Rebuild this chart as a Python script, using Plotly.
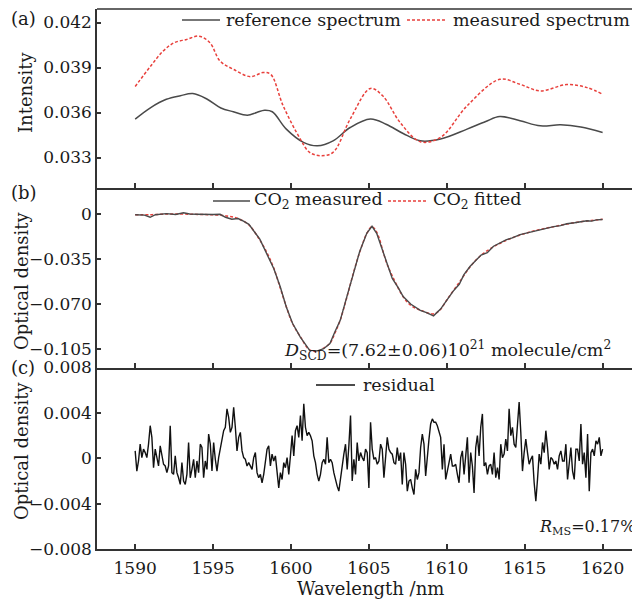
import numpy as np
import plotly.graph_objects as go

# ---------------- data ----------------
ref_wl = [1590.0, 1591.0, 1592.0, 1592.9, 1593.7, 1594.6, 1595.5, 1596.3, 1597.2, 1597.8,
          1598.3, 1598.8, 1599.7, 1600.8, 1601.7, 1602.7, 1603.8, 1605.1, 1606.1, 1607.2,
          1608.3, 1609.6, 1611.3, 1612.5, 1613.4, 1614.7, 1616.0, 1617.3, 1618.6, 1620.0]
ref_int = [0.03556, 0.03633, 0.03688, 0.03712, 0.03726, 0.03690, 0.03630, 0.03605, 0.03582, 0.03600,
           0.03615, 0.03605, 0.03489, 0.03401, 0.03378, 0.03411, 0.03500, 0.03556, 0.03522, 0.03460,
           0.03411, 0.03423, 0.03489, 0.03540, 0.03573, 0.03545, 0.03511, 0.03518, 0.03504, 0.03467]

meas_wl = [1590.0, 1591.0, 1591.8, 1592.5, 1593.3, 1594.1, 1594.8, 1595.45, 1596.3, 1597.4,
           1598.2, 1598.7, 1599.5, 1600.6, 1601.2, 1601.9, 1602.7, 1603.8, 1605.1, 1605.9,
           1607.0, 1608.3, 1609.6, 1611.3, 1613.4, 1614.7, 1616.0, 1617.7, 1619.0, 1620.0]
meas_int = [0.03773, 0.03910, 0.04010, 0.04065, 0.04087, 0.04109, 0.04065, 0.03943, 0.03888, 0.03839,
            0.03866, 0.03854, 0.03644, 0.03423, 0.03334, 0.03312, 0.03334, 0.03556, 0.03760, 0.03710,
            0.03534, 0.03405, 0.03434, 0.03644, 0.03821, 0.03788, 0.03744, 0.03786, 0.03766, 0.03722]

co2_meas_wl = [1590.0, 1590.6, 1590.96, 1591.3, 1592.0, 1592.6, 1593.1, 1593.5, 1594.0, 1594.5,
               1595.0, 1595.45, 1595.8, 1596.2, 1596.6, 1596.95, 1597.3, 1598.0, 1598.5, 1598.9,
               1599.3, 1599.7, 1600.1, 1600.6, 1601.2, 1601.7, 1602.1, 1602.5, 1602.8, 1603.16,
               1603.6, 1604.0, 1604.4, 1604.87, 1605.2, 1605.5, 1606.15, 1606.5, 1606.9, 1607.2,
               1607.7, 1608.0, 1608.3, 1608.7, 1609.15, 1609.6, 1610.0, 1610.4, 1610.8, 1611.1,
               1611.5, 1612.2, 1612.6, 1613.0, 1613.8, 1614.2, 1614.7, 1615.3, 1615.8, 1616.3,
               1616.86, 1617.3, 1617.7, 1618.2, 1618.6, 1619.0, 1619.3, 1619.6, 1620.0]
co2_meas_od = [-0.0005, -0.0008, -0.0025, -0.0005, 0.0003, -0.0003, 0.0010, 0.0000, -0.0002, -0.0005,
               -0.0004, -0.0002, -0.0025, -0.0040, -0.0035, -0.0055, -0.0080, -0.0195, -0.0320, -0.0425,
               -0.0560, -0.0722, -0.0848, -0.0955, -0.1058, -0.1062, -0.1045, -0.1005, -0.0920, -0.0825,
               -0.0635, -0.0465, -0.0295, -0.0148, -0.0095, -0.0150, -0.0385, -0.0500, -0.0575, -0.0640,
               -0.0700, -0.0722, -0.0748, -0.0765, -0.0790, -0.0738, -0.0670, -0.0600, -0.0545, -0.0470,
               -0.0405, -0.0318, -0.0300, -0.0250, -0.0200, -0.0185, -0.0160, -0.0142, -0.0128, -0.0112,
               -0.0098, -0.0090, -0.0075, -0.0068, -0.0062, -0.0052, -0.0055, -0.0045, -0.0042]

co2_fit_wl = [1590.0, 1591.0, 1592.0, 1593.0, 1594.0, 1595.0, 1595.9, 1596.6, 1597.3, 1598.0,
              1598.5, 1598.9, 1599.3, 1599.7, 1600.1, 1600.6, 1601.2, 1601.7, 1602.1, 1602.5,
              1602.8, 1603.16, 1603.6, 1604.0, 1604.4, 1604.87, 1605.2, 1605.5, 1606.15, 1606.7,
              1607.2, 1607.7, 1608.3, 1609.15, 1609.6, 1610.0, 1610.8, 1611.5, 1612.2, 1613.0,
              1613.8, 1614.7, 1615.8, 1616.86, 1617.7, 1618.6, 1619.3, 1620.0]
co2_fit_od = [-0.0005, -0.0005, 0.0000, 0.0000, -0.0003, -0.0006, -0.0015, -0.0035, -0.0085, -0.0202,
              -0.0310, -0.0421, -0.0570, -0.0719, -0.0850, -0.0952, -0.1055, -0.1065, -0.1040, -0.1003,
              -0.0930, -0.0823, -0.0640, -0.0460, -0.0300, -0.0150, -0.0098, -0.0140, -0.0383, -0.0530,
              -0.0642, -0.0710, -0.0745, -0.0775, -0.0740, -0.0667, -0.0530, -0.0409, -0.0320, -0.0254,
              -0.0205, -0.0163, -0.0125, -0.0098, -0.0078, -0.0060, -0.0050, -0.0041]

# residual, units of 1e-3, sampled uniformly from 1590 to 1620 nm
residual_milli = [
    0.65, -1.13, -0.24, 1.24, 0.06, 0.80, 0.50, 0.06, 1.24, 2.87,
    1.84, -0.83, 0.80, -0.09, -0.68, 1.10, 0.21, -0.53, -0.68, -1.27,
    -0.68, 2.87, -1.27, -1.42, 0.21, -1.27, -1.72, -2.31, -0.39, -2.01,
    -2.31, -1.42, 1.39, -1.72, -0.98, -0.09, -1.72, -0.24, -1.27, 1.24,
    0.95, -1.72, -0.24, -0.98, 2.13, 1.24, -1.13, 1.39, -0.09, -1.13,
    0.06, 0.95, 1.54, 2.43, 2.73, 4.36, 3.61, 2.28, 2.73, 4.50,
    2.73, 0.65, 1.84, 2.28, 0.65, 0.06, -0.09, -0.68, -0.39,
    -0.68, -0.98, 0.06, 0.50, -1.27, -1.72, -1.42, -2.16, -1.42, -0.24,
    0.80, 1.10, -0.68, 0.36, -0.24, 0.21, -1.42, -2.61, -1.27, -1.87,
    -0.39, -0.83, 0.06, -1.42, 0.21, 1.99, 0.21, 2.43, 2.87, 1.84,
    3.76, 1.54, 4.80, 2.73, 1.99, 2.28, 1.99, 1.54, 0.21, -0.39,
    -1.42, -2.01, -1.42, -0.39, -0.09, -0.53, 1.84, -0.39, -0.09, -0.39,
    -1.27, -2.01, -2.46, -2.90, -1.72, -0.68, 0.36, 1.24, -0.98, 1.10,
    3.76, -2.01, -0.09, -1.42, 1.39, -0.24, 0.50, 0.06, -0.24, 0.80,
    0.50, -2.61,
    3.17, 0.80, -0.09, 0.06, -0.53, -0.24, 1.24, 0.80, -1.72, 0.06,
    1.84, 0.80, 0.50, 0.36, -0.39, -0.53, 0.95, -0.24, 0.50, -2.31,
    0.50, -0.53, -2.90, -2.01, -1.87, -2.61, -3.20, -0.98, -1.87, -1.27,
    0.95, 2.13, 1.24, -1.57, 0.50, 1.69, 3.02, 3.47, 3.17, 3.17,
    2.87, 2.43, 1.84, -0.98, 1.24, -1.87, -0.98, -0.39, 0.36, -0.68,
    -0.68, -0.53, -1.42, -2.16, 0.06, 0.65, -1.42, -0.09, 1.84, -2.16,
    0.50, -0.68, -3.05, 0.95, 1.99, 0.21, 2.73, 3.91, -0.68, -0.39,
    -1.42, -0.68,
    -0.53, -1.42, 0.50, -1.72, -0.83, -1.87, 1.24, 0.06, 0.36, 1.69,
    0.65, 4.36, 1.99, 2.73, 1.24, 0.95, 2.87, 4.95, 2.28, -1.13,
    0.50, 1.69, 0.50, -0.53, -0.09, 0.21, -2.16, -3.79, -1.87, 0.36,
    -0.53, 1.39, 0.50, 2.43, 0.95, -0.98, 0.06, -0.09, -0.53, -0.24,
    -0.98, 0.21, 0.65, -0.24, -0.24, 1.24, -1.87, -0.24, 0.95, -1.13,
    -1.87, 0.80, 0.80, -0.24, 3.02, -0.53, 0.50, -1.72, 2.13, -2.90,
    0.50, 0.80, 0.21, 1.54, 1.24, 1.84, 0.21, 0.80,
]
res_start_wl, res_end_wl = 1590.0, 1620.0
res_wl = np.linspace(res_start_wl, res_end_wl, len(residual_milli))
residual = np.array(residual_milli) * 1e-3

x_ticks = [1590, 1595, 1600, 1605, 1610, 1615, 1620]
a_ticks = [0.033, 0.036, 0.039, 0.042]
a_ticktext = ["0.033", "0.036", "0.039", "0.042"]
b_ticks = [0.0, -0.035, -0.070, -0.105]
b_ticktext = ["0", "\u22120.035", "\u22120.070", "\u22120.105"]
c_ticks = [0.008, 0.004, 0.0, -0.004, -0.008]
c_ticktext = ["0.008", "0.004", "0", "\u22120.004", "\u22120.008"]

# ---------------- layout helpers ----------------
# the page body adds an 8px margin, so the figure is drawn 8px in from the window corner
OFF = 8
W, H = 640 - OFF, 603 - OFF
L, R, T = 97 - OFF, 0, 1
B = H - (549 - OFF)
PW, PH = W - L - R, H - T - B


def px(xr):
    """window x (reference pixels) -> paper x"""
    return (xr - OFF - L) / PW


def py(yr):
    """window y (reference pixels) -> paper y"""
    return (H - B - (yr - OFF)) / PH


FONT = "DejaVu Serif"
TXT = "#1a1a1a"
AX = "#333333"
GRAY = "#4a4a4a"
RED = "#e8403c"
DASH = "3px,2px"

fig = go.Figure()
fig.add_trace(go.Scatter(x=ref_wl, y=ref_int, xaxis="x", yaxis="y", mode="lines",
                         line=dict(color=GRAY, width=1.5, shape="spline")))
fig.add_trace(go.Scatter(x=meas_wl, y=meas_int, xaxis="x", yaxis="y", mode="lines",
                         line=dict(color=RED, width=1.5, dash=DASH, shape="spline")))
fig.add_trace(go.Scatter(x=co2_fit_wl, y=co2_fit_od, xaxis="x2", yaxis="y2", mode="lines",
                         line=dict(color=RED, width=1.5, dash=DASH, shape="spline")))
fig.add_trace(go.Scatter(x=co2_meas_wl, y=co2_meas_od, xaxis="x2", yaxis="y2", mode="lines",
                         line=dict(color=GRAY, width=1.4)))
fig.add_trace(go.Scatter(x=res_wl, y=residual, xaxis="x3", yaxis="y3", mode="lines",
                         line=dict(color="#111111", width=1.4)))

xrange_ = [1587.55, 1622.4]
d_a = [py(187.5), 1.0]
d_b = [py(367.5), py(187.5)]
d_c = [0.0, py(367.5)]

common_x = dict(range=xrange_, tickvals=x_ticks, ticks="inside", ticklen=5, tickwidth=1.5,
                tickcolor=AX, showline=True, linecolor=AX, linewidth=1.5, showgrid=False,
                zeroline=False, domain=[0, 1])
common_y = dict(ticks="inside", ticklen=4, tickwidth=1.5, tickcolor=AX, showline=True,
                linecolor=AX, linewidth=1.5, showgrid=False, zeroline=False,
                tickfont=dict(family=FONT, size=17, color=TXT))

fig.update_layout(
    width=W, height=H, margin=dict(l=L, r=R, t=T, b=B, autoexpand=False),
    paper_bgcolor="white", plot_bgcolor="white", showlegend=False,
    font=dict(family=FONT, size=17, color=TXT),
    xaxis=dict(anchor="y", showticklabels=False, **common_x),
    xaxis2=dict(anchor="y2", showticklabels=False, **common_x),
    xaxis3=dict(anchor="y3", showticklabels=True,
                tickfont=dict(family=FONT, size=17, color=TXT), ticklabelstandoff=3, **common_x),
    yaxis=dict(domain=d_a, range=[0.031, 0.0429], tickvals=a_ticks, ticktext=a_ticktext,
               anchor="x", **common_y),
    yaxis2=dict(domain=d_b, range=[-0.1191, 0.0206], tickvals=b_ticks, ticktext=b_ticktext,
                anchor="x2", **common_y),
    yaxis3=dict(domain=d_c, range=[-0.008, 0.008], tickvals=c_ticks, ticktext=c_ticktext,
                anchor="x3", **common_y),
)

shapes = [dict(type="line", xref="paper", yref="paper", x0=0, x1=1, y0=1, y1=1,
               line=dict(color=AX, width=1.5))]


def leg_line(x0, x1, y, color, dash=None, width=1.5):
    ln = dict(color=color, width=width)
    if dash:
        ln["dash"] = dash
    shapes.append(dict(type="line", xref="paper", yref="paper", x0=px(x0), x1=px(x1),
                       y0=py(y), y1=py(y), line=ln))


leg_line(182, 220, 20, GRAY)
leg_line(407, 447, 20, RED, DASH)
leg_line(213, 250, 201, GRAY)
leg_line(388, 428, 201, RED, DASH)
leg_line(316, 355, 385, "#111111")
fig.update_layout(shapes=shapes)

ann = []


def text(x, y, s, xanchor="left", size=17, angle=0):
    ann.append(dict(x=px(x), y=py(y), xref="paper", yref="paper", text=s, showarrow=False,
                    xanchor=xanchor, yanchor="middle", textangle=angle,
                    font=dict(family=FONT, size=size, color=TXT)))


text(224, 20, "reference spectrum", size=17.5)
text(451, 20, "measured spectrum", size=17.5)
text(252, 201, "CO<sub>2</sub> measured", size=17.5)
text(431, 201, "CO<sub>2</sub> fitted", size=17.5)
text(361, 385, "residual", size=17.5)
text(282, 350, "<i>D</i><sub>SCD</sub>=(7.62\u00b10.06)10<sup>21</sup> molecule/cm<sup>2</sup>", size=17.5)
text(537, 527, "<i>R</i><sub>MS</sub>=0.17%", size=16)
text(9, 19, "(a)", size=18)
text(9, 192, "(b)", size=18)
text(9, 367, "(c)", size=18)
text(25, 93, "Intensity", xanchor="center", size=18, angle=-90)
text(21, 281, "Optical density", xanchor="center", size=18, angle=-90)
text(21, 451, "Optical density", xanchor="center", size=18, angle=-90)
text(370, 589, "Wavelength /nm", xanchor="center", size=18)
fig.update_layout(annotations=ann)

fig.write_html("out.html")
